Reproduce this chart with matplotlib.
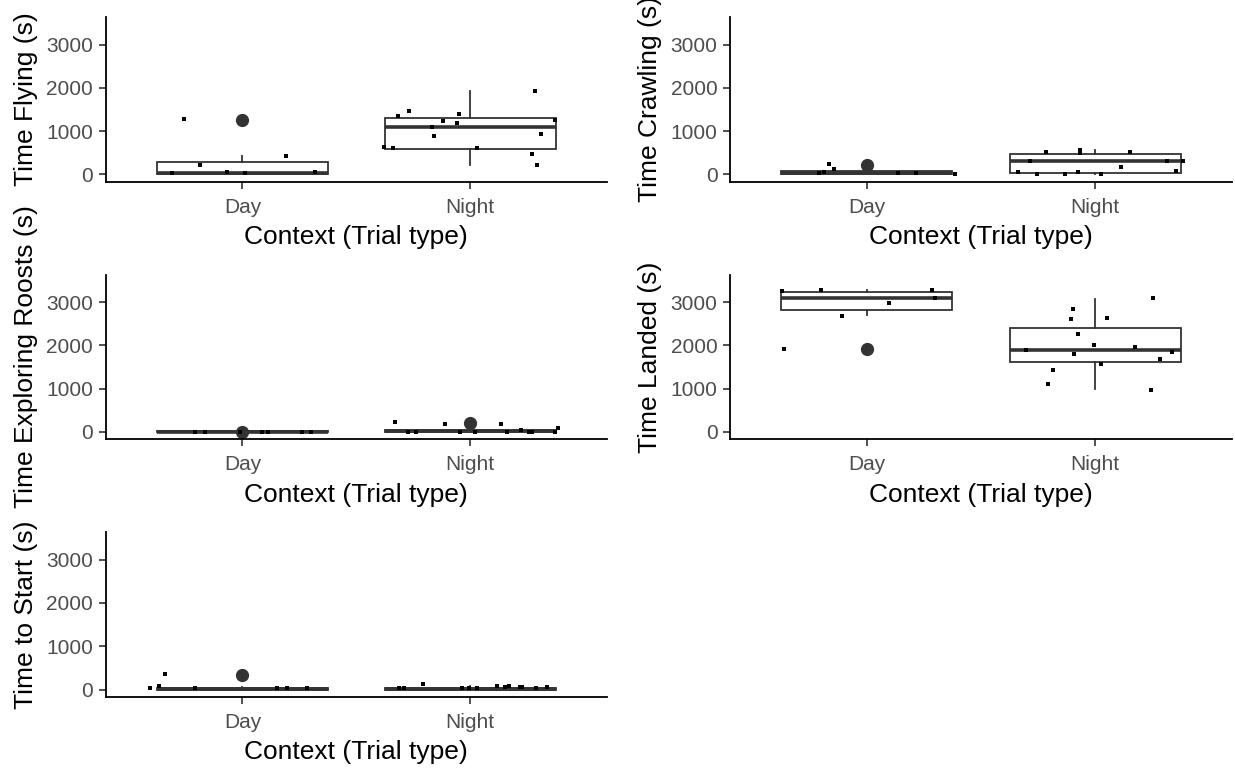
import matplotlib
matplotlib.use("Agg")
import matplotlib.pyplot as plt
import numpy as np

plt.rcParams.update({"font.family": "Liberation Sans", "figure.facecolor": "white",
                     "axes.facecolor": "white"})

DARK = "#333333"
TICK_TXT = "#4D4D4D"

contexts = ["Day", "Night"]
y_ticks = [0, 1000, 2000, 3000]

# box stats per context: whisker low, q1, median, q3, whisker high
flying_stats = [[0, 0, 30, 290, 430], [225, 590, 1100, 1295, 1930]]
flying_out = [[1250], []]
crawling_stats = [[0, 0, 30, 85, 100], [0, 25, 300, 465, 550]]
crawling_out = [[210], []]
roosts_stats = [[0, 0, 0, 10, 20], [0, 0, 15, 35, 95]]
roosts_out = [[5], [200]]
landed_stats = [[2700, 2820, 3085, 3240, 3280], [980, 1620, 1890, 2400, 3080]]
landed_out = [[1910], []]
start_stats = [[0, 0, 10, 45, 60], [0, 0, 15, 45, 90]]
start_out = [[340], []]

# jittered raw observations (horizontal jitter offset, seconds)
flying_day_dx = [-0.256, -0.186, -0.31, -0.068, 0.011, 0.19, 0.32]
flying_day_y = [1270, 225, 25, 55, 25, 430, 45]
flying_night_dx = [-0.316, -0.27, -0.38, -0.34, -0.168, -0.16, -0.12, -0.058, -0.05, 0.028,
                   0.285, 0.31, 0.27, 0.294, 0.372]
flying_night_y = [1350, 1475, 640, 600, 1100, 890, 1230, 1180, 1395, 600,
                  1935, 935, 475, 225, 1265]

crawling_day_dx = [-0.21, -0.19, -0.168, -0.144, 0.137, 0.216, 0.387]
crawling_day_y = [20, 60, 235, 130, 20, 20, 5]
crawling_night_dx = [-0.216, -0.067, -0.067, 0.152, -0.284, 0.317, 0.385, 0.113, -0.34,
                     -0.255, -0.13, -0.076, 0.026, 0.353]
crawling_night_y = [510, 565, 500, 510, 300, 300, 300, 170, 55, 0, 0, 55, 0, 85]

roosts_day_dx = [-0.21, -0.164, -0.01, 0.085, 0.114, 0.26, 0.30]
roosts_day_y = [0, 0, 0, 0, 0, 0, 0]
roosts_night_dx = [-0.332, -0.113, 0.137, 0.224, 0.387, -0.275, -0.238, -0.044, 0.019,
                   0.162, 0.259, 0.273, 0.37]
roosts_night_y = [220, 180, 180, 45, 95, 0, 0, 0, 0, 0, 0, 0, 0]

landed_day_dx = [-0.373, -0.2, 0.284, 0.3, 0.096, -0.107, -0.364]
landed_day_y = [3265, 3285, 3285, 3095, 2970, 2675, 1920]
landed_night_dx = [-0.098, -0.107, 0.05, 0.253, -0.076, -0.004, 0.174, -0.303, -0.092,
                   0.338, 0.285, 0.026, -0.186, -0.207, 0.245]
landed_night_y = [2845, 2600, 2635, 3095, 2265, 2015, 1960, 1890, 1805,
                  1845, 1675, 1560, 1425, 1095, 970]

start_day_dx = [-0.405, -0.34, -0.366, -0.21, 0.152, 0.197, 0.284]
start_day_y = [25, 365, 85, 30, 30, 30, 30]
start_night_dx = [-0.313, -0.291, -0.206, -0.036, -0.004, 0.029, 0.116, 0.154, 0.168,
                  0.219, 0.227, 0.288, 0.335]
start_night_y = [30, 30, 125, 30, 30, 30, 85, 60, 85, 60, 60, 30, 60]

W, H = 1235, 768
fig = plt.figure(figsize=(W / 100, H / 100), dpi=100)


def px_axes(left, top, right, bottom):
    return fig.add_axes([left / W, 1 - bottom / H, (right - left) / W, (bottom - top) / H])


def draw_panel(ax, ylabel, stats, outliers, day_dx, day_y, night_dx, night_y):
    bs = [{"whislo": s[0], "q1": s[1], "med": s[2], "q3": s[3], "whishi": s[4], "fliers": f}
          for s, f in zip(stats, outliers)]
    ax.bxp(bs, positions=[1, 2], widths=0.75, patch_artist=True, showcaps=False,
           boxprops=dict(facecolor="white", edgecolor=DARK, linewidth=1.3),
           medianprops=dict(color=DARK, linewidth=2.6, solid_capstyle="butt"),
           whiskerprops=dict(color=DARK, linewidth=1.3),
           flierprops=dict(marker="o", markersize=8.5, markerfacecolor=DARK,
                           markeredgecolor=DARK))
    ax.scatter(1 + np.array(day_dx), day_y, s=12, marker="s", color="black", zorder=4,
               linewidths=0)
    ax.scatter(2 + np.array(night_dx), night_y, s=12, marker="s", color="black", zorder=4,
               linewidths=0)

    ax.set_xlim(0.4, 2.6)
    ax.set_ylim(-173, 3640)
    ax.set_xticks([1, 2])
    ax.set_xticklabels(contexts)
    ax.set_yticks(y_ticks)
    ax.set_yticklabels([str(t) for t in y_ticks])
    for side in ["top", "right"]:
        ax.spines[side].set_visible(False)
    for side in ["left", "bottom"]:
        ax.spines[side].set_color("black")
        ax.spines[side].set_linewidth(1.3)
    ax.tick_params(colors=DARK, labelcolor=TICK_TXT, labelsize=15, length=5, width=1.2)
    ax.tick_params(axis="y", pad=4)
    ax.tick_params(axis="x", pad=6.5)
    ax.set_xlabel("Context (Trial type)", fontsize=19, color="black", labelpad=6)
    ax.set_ylabel(ylabel, fontsize=19, color="black", labelpad=6)


ax1 = px_axes(105.7, 17, 607, 181.7)
draw_panel(ax1, "Time Flying (s)", flying_stats, flying_out,
           flying_day_dx, flying_day_y, flying_night_dx, flying_night_y)
ax2 = px_axes(730, 17, 1232, 181.7)
draw_panel(ax2, "Time Crawling (s)", crawling_stats, crawling_out,
           crawling_day_dx, crawling_day_y, crawling_night_dx, crawling_night_y)
ax3 = px_axes(105.7, 274.5, 607, 439.3)
draw_panel(ax3, "Time Exploring Roosts (s)", roosts_stats, roosts_out,
           roosts_day_dx, roosts_day_y, roosts_night_dx, roosts_night_y)
ax4 = px_axes(730, 274.5, 1232, 439.3)
draw_panel(ax4, "Time Landed (s)", landed_stats, landed_out,
           landed_day_dx, landed_day_y, landed_night_dx, landed_night_y)
ax5 = px_axes(105.7, 532, 607, 697)
draw_panel(ax5, "Time to Start (s)", start_stats, start_out,
           start_day_dx, start_day_y, start_night_dx, start_night_y)

fig.savefig("out.png", dpi=100)
